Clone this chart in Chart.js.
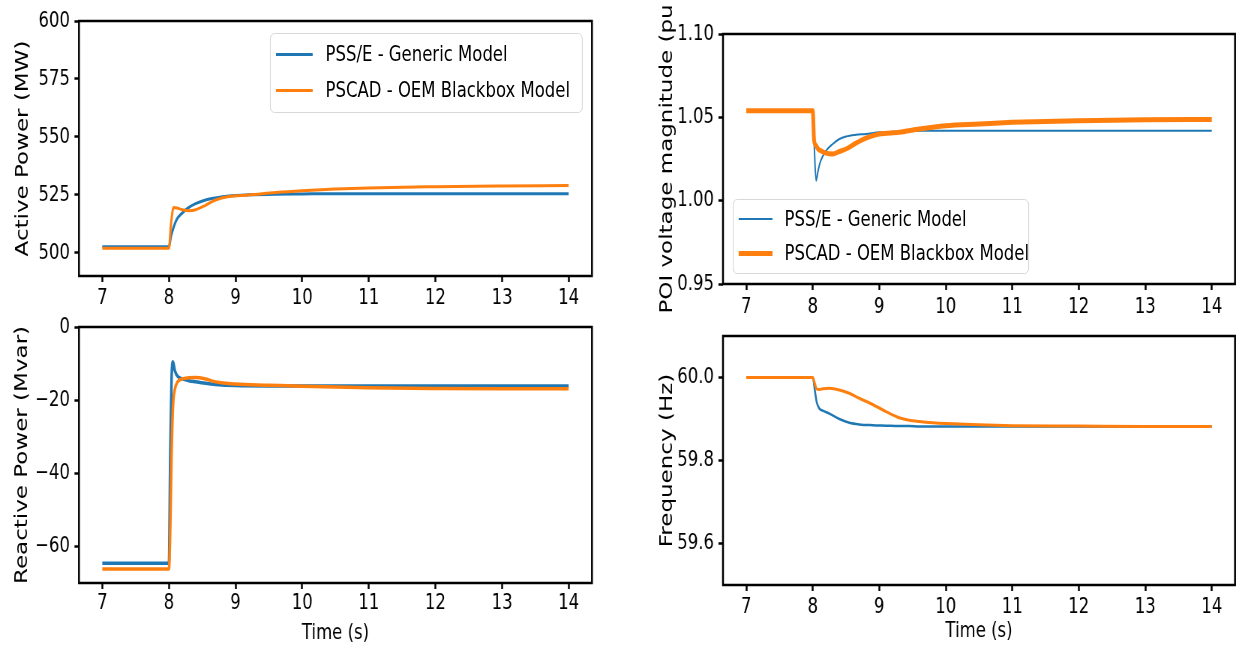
<!DOCTYPE html>
<html>
<head>
<meta charset="utf-8">
<script src="https://cdn.jsdelivr.net/npm/chart.js@4.4.0/dist/chart.umd.min.js"></script>
<style>
  html, body { margin: 0; padding: 0; background: #fff; overflow: hidden; }
  /* the whole figure is drawn wide, then squeezed to match the narrow look of the original */
  #fig { position: absolute; left: 0; top: 0; width: 1652px; height: 648px; transform: scaleX(0.75); transform-origin: 0 0; }
  #fig canvas { position: absolute; }
  .legend { position: absolute; box-sizing: border-box; border: 1.5px solid #d2d2d2; border-radius: 6px;
            background: rgba(255,255,255,0.85); font: 22px "DejaVu Sans"; color: #000; }
  .legend .row { position: absolute; left: 0; right: 0; height: 26px; line-height: 26px; white-space: nowrap; }
  .legend .swatch { position: absolute; }
  .legend .label { position: absolute; top: 0; }
</style>
</head>
<body>
<div id="fig">
  <canvas id="cActive" width="800" height="318" style="left:0px;top:0px;width:800px;height:318px"></canvas>
  <canvas id="cReactive" width="800" height="348" style="left:0px;top:300px;width:800px;height:348px"></canvas>
  <canvas id="cVoltage" width="802" height="330" style="left:850px;top:0px;width:802px;height:330px"></canvas>
  <canvas id="cFreq" width="802" height="348" style="left:850px;top:300px;width:802px;height:348px"></canvas>
</div>
<script>
const seriesNames = ["PSS/E - Generic Model", "PSCAD - OEM Blackbox Model"];
const blue = "#1f77b4";
const orange = "#ff7f0e";

const xTicks = [7, 8, 9, 10, 11, 12, 13, 14];

// Active power (MW)
const tActive = [7, 8.0, 8.03, 8.07, 8.12, 8.2, 8.3, 8.4, 8.55, 8.7, 8.9, 9.2, 9.6, 10, 10.5, 11, 12, 13, 14];
const activeGeneric = [502.6, 502.6, 507, 511, 514.5, 517.2, 519.6, 521.2, 522.8, 523.7, 524.5, 525.0, 525.3, 525.4, 525.5, 525.5, 525.5, 525.5, 525.5];
const activeOEM = [502.0, 502.0, 512, 519.5, 519.3, 518.6, 518.2, 518.6, 520.5, 522.8, 524.3, 524.9, 526.0, 526.8, 527.5, 528.0, 528.5, 528.8, 529.0];
const activeTicks = [500, 525, 550, 575, 600];

// Reactive power (Mvar)
const tReactive = [7, 8.0, 8.02, 8.04, 8.06, 8.09, 8.13, 8.2, 8.3, 8.4, 8.55, 8.7, 9, 9.5, 10, 11, 12, 13, 14];
const reactiveGeneric = [-64.6, -64.6, -35, -14, -9.5, -12, -13.5, -14.2, -14.7, -15.0, -15.4, -15.7, -16.0, -16.1, -16.1, -16.1, -16.1, -16.1, -16.1];
const reactiveOEM = [-66.2, -66.2, -55, -35, -22, -17, -15, -14.2, -13.9, -13.8, -14.2, -15.0, -15.6, -15.9, -16.2, -16.6, -16.8, -16.9, -16.9];
const reactiveTicks = [-60, -40, -20, 0];

// POI voltage (pu)
const tVoltage = [7, 8.0, 8.02, 8.05, 8.08, 8.12, 8.2, 8.3, 8.4, 8.5, 8.65, 8.8, 9, 9.3, 9.6, 10, 10.5, 11, 12, 13, 14];
const voltageGeneric = [1.054, 1.054, 1.035, 1.012, 1.018, 1.024, 1.030, 1.034, 1.037, 1.0385, 1.0395, 1.040, 1.041, 1.0415, 1.042, 1.042, 1.042, 1.042, 1.042, 1.042, 1.042];
const voltageOEM = [1.054, 1.054, 1.036, 1.033, 1.031, 1.030, 1.0285, 1.028, 1.0295, 1.031, 1.0345, 1.0375, 1.040, 1.041, 1.043, 1.045, 1.046, 1.047, 1.048, 1.0485, 1.0487];
const voltageTicks = [0.95, 1.00, 1.05, 1.10];

// Frequency (Hz)
const tFreq = [7, 8.0, 8.03, 8.06, 8.1, 8.15, 8.25, 8.4, 8.55, 8.7, 8.9, 9.1, 9.3, 9.45, 9.6, 9.8, 10, 10.5, 11, 12, 13, 14];
const freqGeneric = [60, 60, 59.97, 59.94, 59.925, 59.92, 59.913, 59.900, 59.891, 59.887, 59.885, 59.884, 59.883, 59.883, 59.882, 59.882, 59.882, 59.882, 59.882, 59.882, 59.882, 59.882];
const freqOEM = [60, 60, 59.985, 59.972, 59.971, 59.973, 59.974, 59.970, 59.962, 59.950, 59.935, 59.918, 59.903, 59.897, 59.894, 59.891, 59.889, 59.886, 59.884, 59.883, 59.882, 59.882];
const freqTicks = [59.6, 59.8, 60.0];

Chart.defaults.font.family = "DejaVu Sans";
Chart.defaults.font.size = 22;
Chart.defaults.color = "#000";

const framePlugin = {
  id: "frame",
  afterDatasetsDraw(chart) {
    const { ctx, chartArea: a } = chart;
    ctx.save();
    ctx.strokeStyle = "#000";
    ctx.lineWidth = 2.5;
    ctx.strokeRect(a.left, a.top, a.right - a.left, a.bottom - a.top);
    ctx.restore();
  }
};

const toPoints = (t, v) => t.map((x, i) => ({ x, y: v[i] }));

function makePanel(id, p) {
  const canvas = document.getElementById(id);
  const tickGrid = { display: true, drawOnChartArea: false, drawTicks: true, tickLength: 6, tickWidth: 2.5, tickColor: "#000" };
  const chart = new Chart(canvas, {
    type: "line",
    data: {
      datasets: [
        {
          label: seriesNames[0],
          data: toPoints(p.t, p.generic),
          borderColor: blue,
          borderWidth: p.widths[0],
          pointRadius: 0,
          fill: false,
          cubicInterpolationMode: "monotone",
          order: 1
        },
        {
          label: seriesNames[1],
          data: toPoints(p.t, p.oem),
          borderColor: orange,
          borderWidth: p.widths[1],
          pointRadius: 0,
          fill: false,
          cubicInterpolationMode: "monotone",
          order: 0
        }
      ]
    },
    options: {
      responsive: false,
      devicePixelRatio: 1,
      animation: false,
      events: [],
      layout: { padding: { left: 0, top: p.padTop, right: p.padRight, bottom: 0 } },
      plugins: { legend: { display: false }, tooltip: { enabled: false } },
      scales: {
        x: {
          type: "linear",
          min: 6.65,
          max: 14.35,
          grid: tickGrid,
          border: { display: false },
          afterBuildTicks: s => { s.ticks = xTicks.map(v => ({ value: v })); },
          afterFit: s => { s.height = p.xHeight; },
          ticks: { padding: p.xPad, maxRotation: 0, autoSkip: false, callback: v => String(v) },
          title: { display: !!p.xTitle, text: p.xTitle || "", padding: { top: 0, bottom: p.xTitlePad || 0 } }
        },
        y: {
          type: "linear",
          min: p.yMin,
          max: p.yMax,
          grid: tickGrid,
          border: { display: false },
          afterBuildTicks: s => { s.ticks = p.yTicks.map(v => ({ value: v })); },
          afterFit: s => { s.width = p.yWidth; },
          ticks: { padding: 6, autoSkip: false, callback: p.yFormat },
          title: { display: true, text: p.yTitle, font: { size: 23 }, padding: { top: p.yTitlePad, bottom: 0 } }
        }
      }
    },
    plugins: [framePlugin]
  });
  return chart;
}

function makeLegend(chart, box) {
  const fig = document.getElementById("fig");
  const div = document.createElement("div");
  div.className = "legend";
  div.style.left = box.left + "px";
  div.style.top = box.top + "px";
  div.style.width = box.width + "px";
  div.style.height = box.height + "px";
  chart.data.datasets.forEach((ds, i) => {
    const row = document.createElement("div");
    row.className = "row";
    row.style.top = (box.rows[i] - 13) + "px";
    const sw = document.createElement("span");
    sw.className = "swatch";
    sw.style.left = box.handle[0] + "px";
    sw.style.width = (box.handle[1] - box.handle[0]) + "px";
    sw.style.height = ds.borderWidth + "px";
    sw.style.top = (13 - ds.borderWidth / 2) + "px";
    sw.style.background = ds.borderColor;
    const lab = document.createElement("span");
    lab.className = "label";
    lab.style.left = box.textLeft + "px";
    lab.textContent = ds.label;
    row.appendChild(sw);
    row.appendChild(lab);
    div.appendChild(row);
  });
  fig.appendChild(div);
}

const minus = v => (v < 0 ? "\u2212" + Math.abs(v) : String(v));

const active = makePanel("cActive", {
  t: tActive, generic: activeGeneric, oem: activeOEM, widths: [3, 3],
  yMin: 490, yMax: 600, yTicks: activeTicks, yFormat: v => String(v),
  yTitle: "Active Power (MW)", yTitlePad: 17,
  padTop: 21, padRight: 10.7, yWidth: 105.3, xHeight: 42, xPad: 3.5
});

makePanel("cReactive", {
  t: tReactive, generic: reactiveGeneric, oem: reactiveOEM, widths: [3.5, 3.5],
  yMin: -70, yMax: 0, yTicks: reactiveTicks, yFormat: minus,
  yTitle: "Reactive Power (Mvar)", yTitlePad: 16,
  padTop: 27, padRight: 10.7, yWidth: 105.3, xHeight: 65, xPad: 1.5,
  xTitle: "Time (s)", xTitlePad: 2
});

const voltage = makePanel("cVoltage", {
  t: tVoltage, generic: voltageGeneric, oem: voltageOEM, widths: [2, 5],
  yMin: 0.95, yMax: 1.10, yTicks: voltageTicks, yFormat: v => v.toFixed(2),
  yTitle: "POI voltage magnitude (pu", yTitlePad: 26,
  padTop: 34, padRight: 5.3, yWidth: 114, xHeight: 46, xPad: 4.5
});

makePanel("cFreq", {
  t: tFreq, generic: freqGeneric, oem: freqOEM, widths: [2.5, 3],
  yMin: 59.5, yMax: 60.1, yTicks: freqTicks, yFormat: v => v.toFixed(1),
  yTitle: "Frequency (Hz)", yTitlePad: 26,
  padTop: 36, padRight: 5.3, yWidth: 114, xHeight: 63, xPad: 3,
  xTitle: "Time (s)", xTitlePad: 4
});

makeLegend(active, { left: 360, top: 33, width: 417, height: 80, rows: [20, 56], handle: [7, 56], textLeft: 73 });
makeLegend(voltage, { left: 977, top: 199, width: 395, height: 75, rows: [19, 53], handle: [7, 52], textLeft: 68 });
</script>
</body>
</html>
